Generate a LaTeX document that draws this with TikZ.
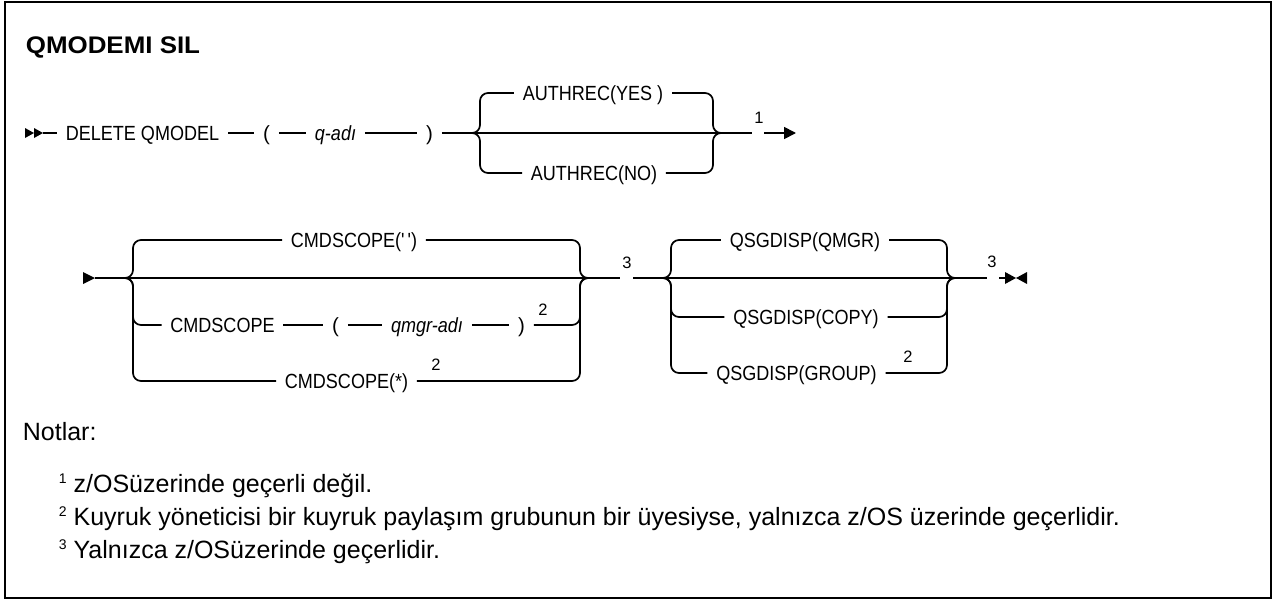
\documentclass[tikz,border=0pt]{standalone}
\usepackage{fontspec}
\usepackage{graphicx}
\setmainfont{Liberation Sans}
\newfontfamily\dfont{Liberation Sans}
\usetikzlibrary{arrows.meta}
\tikzset{
  t/.style={font=\dfont\fontsize{20.5}{22}\selectfont, inner xsep=8pt, inner ysep=0pt, text height=14.7pt, text depth=0pt, anchor=center},
  ti/.style={t, font=\dfont\fontsize{20.5}{22}\selectfont\itshape},
  fn/.style={font=\dfont\fontsize{16.5}{16.5}\selectfont, inner sep=0pt},
  rc/.style={rounded corners=8pt},
  notefont/.style={font=\dfont\fontsize{25}{30}\selectfont, inner sep=0pt, anchor=base west},
}
\newcommand{\cx}[1]{\scalebox{0.88}[1]{#1}}
\newcommand{\sups}[1]{{\fontsize{14}{14}\selectfont\raisebox{9pt}{#1}}\hspace{7pt}}
\begin{document}
\begin{tikzpicture}[x=1pt,y=-1pt,line width=1.7pt]
\useasboundingbox (0,0) rectangle (1276,603);
\draw[line width=2pt] (5,2) rectangle (1271,598);
\node[font=\dfont\bfseries\fontsize{24}{26}\selectfont, inner sep=0pt, anchor=west] (title) at (25,47) {\scalebox{1.08}[1]{QMODEMI SIL}};

% ---- row 1
\fill (25,128) -- (34,133) -- (25,138) -- cycle;
\fill (34,128) -- (43,133) -- (34,138) -- cycle;
\coordinate (st1) at (43,133);
\node[t] (del) at (142.5,133) {\cx{DELETE QMODEL}};
\node[t] (lp1) at (266.5,133) {(};
\node[ti] (qadi) at (335.5,133) {\cx{q-adı}};
\node[t] (rp1) at (429.5,133) {)};
\draw (st1) -- (del.west);
\draw (del.east) -- (lp1.west);
\draw (lp1.east) -- (qadi.west);
\draw (qadi.east) -- (rp1.west);
\coordinate (b1l) at (472,133);
\coordinate (b1r) at (721,133);
\node[t] (yes) at (593,93) {\cx{AUTHREC(YES )}};
\node[t] (no) at (594,173) {\cx{AUTHREC(NO)}};
\draw[rc] (b1l) -| (480,93) -- (yes.west);
\draw[rc] (yes.east) -| (713,133) -- (b1r);
\draw[rc] (b1l) -| (480,173) -- (no.west);
\draw[rc] (no.east) -| (713,133) -- (b1r);
\coordinate (g1a) at (752,133);
\coordinate (g1b) at (764,133);
\coordinate (e1) at (796,133);
\draw (rp1.east) -- (g1a);
\node[fn] (n1) at (759,118) {1};
\draw[-{Triangle[length=12pt,width=12pt]}] (g1b) -- (e1);

% ---- row 2
\fill (83,272) -- (95,278) -- (83,284) -- cycle;
\coordinate (st2) at (95,278);
\coordinate (b2l) at (125,278);
\coordinate (b2r) at (590,278);
\node[t] (cs1) at (354,240) {\cx{CMDSCOPE('\,')}};
\node[t] (cs2) at (222.5,325) {\cx{CMDSCOPE}};
\node[t] (lp2) at (335.5,325) {(};
\node[ti] (qmgr) at (427,325) {\cx{qmgr-adı}};
\node[t] (rp2) at (521.5,325) {)};
\node[fn] (n2a) at (543,310) {2};
\node[t] (cs3) at (346.5,381) {\cx{CMDSCOPE(*)}};
\node[fn] (n2b) at (436,365) {2};
\draw[rc] (b2l) -| (133,240) -- (cs1.west);
\draw[rc] (cs1.east) -| (580,278) -- (b2r);
\draw[rc] (b2l) -| (133,325) -- (cs2.west);
\draw (cs2.east) -- (lp2.west);
\draw (lp2.east) -- (qmgr.west);
\draw (qmgr.east) -- (rp2.west);
\draw[rc] (rp2.east) -| (580,278) -- (b2r);
\draw[rc] (b2l) -| (133,381) -- (cs3.west);
\draw[rc] (cs3.east) -| (580,278) -- (b2r);
\coordinate (g2a) at (620,278);
\coordinate (g2b) at (633,278);
\draw (st2) -- (g2a);
\node[fn] (n3a) at (627,263) {3};

\coordinate (b3l) at (663,278);
\coordinate (b3r) at (955,278);
\node[t] (qm) at (805,240) {\cx{QSGDISP(QMGR)}};
\node[t] (cp) at (806,317) {\cx{QSGDISP(COPY)}};
\node[t] (gr) at (796.5,373) {\cx{QSGDISP(GROUP)}};
\node[fn] (n2c) at (908,357) {2};
\draw[rc] (b3l) -| (671,240) -- (qm.west);
\draw[rc] (qm.east) -| (947,278) -- (b3r);
\draw[rc] (b3l) -| (671,317) -- (cp.west);
\draw[rc] (cp.east) -| (947,278) -- (b3r);
\draw[rc] (b3l) -| (671,373) -- (gr.west);
\draw[rc] (gr.east) -| (947,278) -- (b3r);
\coordinate (g3a) at (987,278);
\coordinate (g3b) at (999,278);
\coordinate (e3) at (1006,278);
\draw (g2b) -- (g3a);
\node[fn] (n3b) at (992,262) {3};
\draw (g3b) -- (e3);
\fill (1005,272) -- (1016,278) -- (1005,284) -- cycle;
\fill (1027,272) -- (1016,278) -- (1027,284) -- cycle;

% ---- notes
\node[notefont] (notlar) at (22,440) {Notlar:};
\node[notefont] (nt1) at (58,492) {\sups{1}z/OSüzerinde geçerli değil.};
\node[notefont] (nt2) at (58,525) {\sups{2}Kuyruk yöneticisi bir kuyruk paylaşım grubunun bir üyesiyse, yalnızca z/OS üzerinde geçerlidir.};
\node[notefont] (nt3) at (58,558) {\sups{3}Yalnızca z/OSüzerinde geçerlidir.};
\end{tikzpicture}
\end{document}
